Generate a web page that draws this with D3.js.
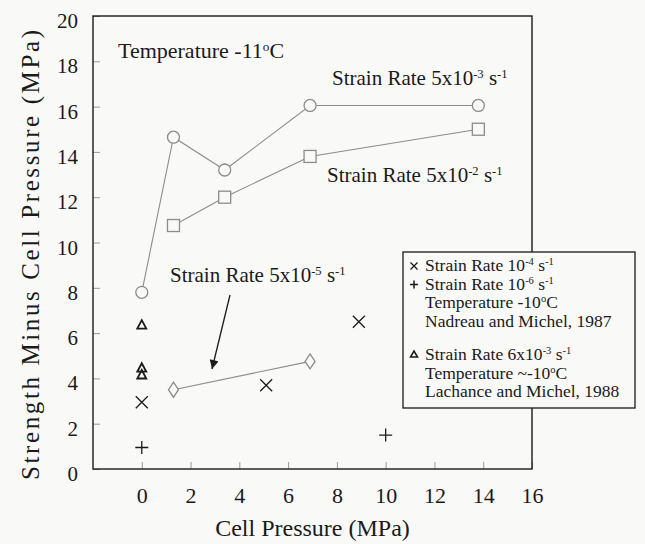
<!DOCTYPE html>
<html>
<head>
<meta charset="utf-8">
<script src="https://cdn.jsdelivr.net/npm/d3@7"></script>
<style>
  html, body { margin: 0; padding: 0; background: #f9f9f8; }
  svg { display: block; }
</style>
</head>
<body>
<svg id="chart" width="645" height="544"></svg>
<script>
// Strain rate 5x10^-3 s^-1 (circles)
const pressureFast = [0, 1.3, 3.4, 6.9, 13.8];
const strengthFast = [7.8, 14.65, 13.2, 16.05, 16.05];
// Strain rate 5x10^-2 s^-1 (squares)
const pressureFaster = [1.3, 3.4, 6.9, 13.8];
const strengthFaster = [10.75, 12.0, 13.8, 15.0];
// Strain rate 5x10^-5 s^-1 (diamonds)
const pressureSlow = [1.3, 6.9];
const strengthSlow = [3.5, 4.75];
// Nadreau and Michel, 1987: strain rate 10^-4 (crosses) and 10^-6 (plus)
const pressureN4 = [0, 5.1, 8.9];
const strengthN4 = [2.95, 3.7, 6.5];
const pressureN6 = [0, 10];
const strengthN6 = [0.95, 1.5];
// Lachance and Michel, 1988 (triangles)
const pressureL = [0, 0, 0];
const strengthL = [6.35, 4.45, 4.15];

const xTicks = [0, 2, 4, 6, 8, 10, 12, 14, 16];
const yTicks = [0, 2, 4, 6, 8, 10, 12, 14, 16, 18, 20];

const FONT = "'Liberation Serif', 'DejaVu Serif', 'Times New Roman', Times, serif";

const svg = d3.select("#chart").attr("font-family", FONT);
const margin = { left: 93, top: 16, right: 113, bottom: 75 };
const W = 645 - margin.left - margin.right;
const H = 544 - margin.top - margin.bottom;

const x = d3.scaleLinear().domain([-2, 16]).range([margin.left, margin.left + W]);
const y = d3.scaleLinear().domain([0, 20]).range([margin.top + H, margin.top]);

const bg = "#f9f9f8";
const grey = "#8c8c8c";
const ink = "#1a1a1a";

// axes with inward ticks
const gy = svg.append("g").attr("transform", `translate(${margin.left},0)`)
  .call(d3.axisLeft(y).tickValues(yTicks).tickSize(-7).tickPadding(15).tickFormat(d3.format("d")));
gy.attr("font-family", FONT);
gy.select(".domain").remove();
gy.selectAll(".tick line").attr("stroke", "#999").attr("stroke-width", 1);
gy.selectAll(".tick text").attr("font-size", 21).attr("dy", "0.55em").attr("fill", ink);

const gx = svg.append("g").attr("transform", `translate(0,${margin.top + H})`)
  .call(d3.axisBottom(x).tickValues(xTicks).tickSize(-7).tickFormat(d3.format("d")));
gx.attr("font-family", FONT);
gx.select(".domain").remove();
gx.selectAll(".tick line").attr("stroke", "#999").attr("stroke-width", 1);
gx.selectAll(".tick text").attr("font-size", 22).attr("y", 34).attr("dy", 0).attr("fill", ink);

// plot frame
svg.append("rect")
  .attr("x", margin.left).attr("y", margin.top).attr("width", W).attr("height", H)
  .attr("fill", "none").attr("stroke", ink).attr("stroke-width", 1.4);

// axis titles
svg.append("text")
  .attr("x", x(7)).attr("y", 536).attr("text-anchor", "middle").attr("fill", ink)
  .attr("font-size", 24).text("Cell Pressure (MPa)");
svg.append("text")
  .attr("transform", "translate(39,255) rotate(-90)")
  .attr("text-anchor", "middle").attr("font-size", 25).attr("fill", ink)
  .attr("textLength", 450).attr("lengthAdjust", "spacing")
  .text("Strength Minus Cell Pressure (MPa)");

// connected series
const line = d3.line().x(d => x(d[0])).y(d => y(d[1]));
function series(px, py) { return px.map((p, i) => [p, py[i]]); }

const fast = series(pressureFast, strengthFast);
const faster = series(pressureFaster, strengthFaster);
const slow = series(pressureSlow, strengthSlow);

[fast, faster, slow].forEach(s => {
  svg.append("path").attr("d", line(s)).attr("fill", "none")
    .attr("stroke", grey).attr("stroke-width", 1.1);
});

svg.append("g").selectAll("circle").data(fast).join("circle")
  .attr("cx", d => x(d[0])).attr("cy", d => y(d[1])).attr("r", 6)
  .attr("fill", bg).attr("stroke", grey).attr("stroke-width", 1.3);

svg.append("g").selectAll("rect").data(faster).join("rect")
  .attr("x", d => x(d[0]) - 6).attr("y", d => y(d[1]) - 6)
  .attr("width", 12).attr("height", 12)
  .attr("fill", bg).attr("stroke", grey).attr("stroke-width", 1.3);

svg.append("g").selectAll("path").data(slow).join("path")
  .attr("d", d => {
    const cx = x(d[0]), cy = y(d[1]);
    return `M${cx},${cy - 7.5}L${cx + 5},${cy}L${cx},${cy + 7.5}L${cx - 5},${cy}Z`;
  })
  .attr("fill", bg).attr("stroke", grey).attr("stroke-width", 1.3);

// literature points
svg.append("g").selectAll("path").data(series(pressureN4, strengthN4)).join("path")
  .attr("d", d => {
    const cx = x(d[0]), cy = y(d[1]), s = 6;
    return `M${cx - s},${cy - s}L${cx + s},${cy + s}M${cx - s},${cy + s}L${cx + s},${cy - s}`;
  })
  .attr("stroke", ink).attr("stroke-width", 1.3).attr("fill", "none");

svg.append("g").selectAll("path").data(series(pressureN6, strengthN6)).join("path")
  .attr("d", d => {
    const cx = x(d[0]), cy = y(d[1]), s = 6.5;
    return `M${cx - s},${cy}L${cx + s},${cy}M${cx},${cy - s}L${cx},${cy + s}`;
  })
  .attr("stroke", ink).attr("stroke-width", 1.3).attr("fill", "none");

svg.append("g").selectAll("path").data(series(pressureL, strengthL)).join("path")
  .attr("d", d => {
    const cx = x(d[0]), cy = y(d[1]);
    return `M${cx},${cy - 5}L${cx + 4.5},${cy + 3.5}L${cx - 4.5},${cy + 3.5}Z`;
  })
  .attr("stroke", ink).attr("stroke-width", 1.8).attr("fill", "none");

// text with superscripts: parts = [[text, isSup], ...]
function richText(px, py, size, parts) {
  const t = svg.append("text").attr("x", px).attr("y", py).attr("font-size", size).attr("fill", ink);
  let raised = false;
  const lift = size * 0.33;
  parts.forEach(([s, sup]) => {
    const sp = t.append("tspan").text(s);
    if (sup && !raised) { sp.attr("dy", -lift).attr("font-size", size * 0.6); raised = true; }
    else if (sup) { sp.attr("font-size", size * 0.6); }
    else if (!sup && raised) { sp.attr("dy", lift); raised = false; }
  });
  return t;
}

richText(118, 58, 22, [["Temperature -11", false], ["o", true], ["C", false]]);
richText(332, 85, 21, [["Strain Rate 5x10", false], ["-3", true], [" s", false], ["-1", true]]);
richText(327, 182, 21, [["Strain Rate 5x10", false], ["-2", true], [" s", false], ["-1", true]]);
richText(170, 282, 21, [["Strain Rate 5x10", false], ["-5", true], [" s", false], ["-1", true]]);

// arrow pointing at the slow-rate series
svg.append("defs").append("marker")
  .attr("id", "head").attr("viewBox", "0 0 10 10").attr("refX", 10).attr("refY", 5)
  .attr("markerWidth", 10).attr("markerHeight", 9).attr("markerUnits", "userSpaceOnUse")
  .attr("orient", "auto")
  .append("path").attr("d", "M0,0L10,5L0,10Z").attr("fill", ink);
svg.append("line")
  .attr("x1", 230).attr("y1", 295).attr("x2", 212).attr("y2", 369)
  .attr("stroke", ink).attr("stroke-width", 1.3).attr("marker-end", "url(#head)");

// legend box
const lg = svg.append("g");
lg.append("rect").attr("x", 403).attr("y", 252).attr("width", 232).attr("height", 156)
  .attr("fill", bg).attr("stroke", ink).attr("stroke-width", 1.3);

const lgSize = 17.5;
const tx = 425;
// marker glyphs
const mx = 414;
lg.append("path").attr("d", `M${mx - 3.5},${266 - 3.5}L${mx + 3.5},${266 + 3.5}M${mx - 3.5},${266 + 3.5}L${mx + 3.5},${266 - 3.5}`)
  .attr("stroke", ink).attr("stroke-width", 1.3);
lg.append("path").attr("d", `M${mx - 4},284.5L${mx + 4},284.5M${mx},280.5L${mx},288.5`)
  .attr("stroke", ink).attr("stroke-width", 1.5);
lg.append("path").attr("d", `M${mx},${351}L${mx + 3.5},${357}L${mx - 3.5},${357}Z`)
  .attr("stroke", ink).attr("stroke-width", 1.5).attr("fill", "none");

richText(tx, 271, lgSize, [["Strain Rate 10", false], ["-4", true], [" s", false], ["-1", true]]);
richText(tx, 289.5, lgSize, [["Strain Rate 10", false], ["-6", true], [" s", false], ["-1", true]]);
richText(tx, 308, lgSize, [["Temperature -10", false], ["o", true], ["C", false]]);
richText(tx, 326.5, lgSize, [["Nadreau and Michel, 1987", false]]);
richText(tx, 360, lgSize, [["Strain Rate 6x10", false], ["-3", true], [" s", false], ["-1", true]]);
richText(tx, 378.5, lgSize, [["Temperature ~-10", false], ["o", true], ["C", false]]);
richText(tx, 397, lgSize, [["Lachance and Michel, 1988", false]]);
</script>
</body>
</html>
